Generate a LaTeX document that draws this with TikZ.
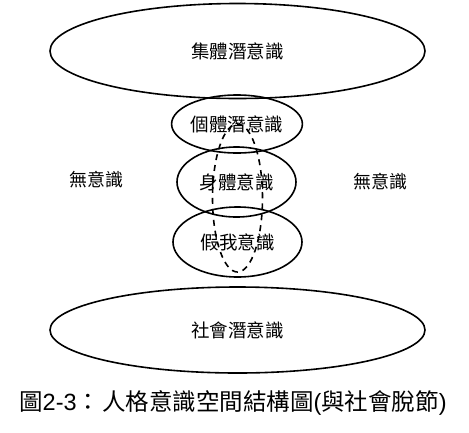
\documentclass[tikz,border=0pt]{standalone}
\usepackage{fontspec}
\setmainfont{Liberation Sans}
\newfontfamily\cjk{Noto Sans CJK TC}
\usetikzlibrary{shapes.geometric}
\tikzset{
  ring/.style={draw, ellipse, line width=1.6pt, inner sep=0pt, font=\cjk\fontsize{18.5}{18.5}\selectfont},
  dashring/.style={draw, ellipse, dashed, dash pattern=on 6pt off 5pt, line width=1.6pt, inner sep=0pt},
  lbl/.style={font=\cjk\fontsize{18}{18}\selectfont, inner sep=0pt}
}
\begin{document}
\begin{tikzpicture}[x=1pt,y=-1pt]
\useasboundingbox (0,0) rectangle (469,432);
\node[ring, minimum width=375pt, minimum height=95pt] (coll) at (237.5,51) {集體潛意識};
\node[ring, minimum width=129pt, minimum height=58pt] (indiv) at (237,124) {個體潛意識};
\node[ring, minimum width=119pt, minimum height=70pt] (body) at (236.5,182) {身體意識};
\node[ring, minimum width=129pt, minimum height=70pt] (false) at (237.5,242) {假我意識};
\node[ring, minimum width=375pt, minimum height=86pt] (soc) at (237.5,330) {社會潛意識};
\node[dashring, minimum width=50pt, minimum height=148pt] (self) at (237.5,198) {};
\node[lbl] (ul) at (96,180) {無意識};
\node[lbl] (ur) at (380,182) {無意識};
\node[inner sep=0pt, font=\fontsize{23.5}{23.5}\selectfont] (cap) at (233,403)
  {{\cjk 圖}2-3{\cjk ：}\hspace{2pt}{\cjk 人格意識空間結構圖}({\cjk 與社會脫節})};
\end{tikzpicture}
\end{document}
